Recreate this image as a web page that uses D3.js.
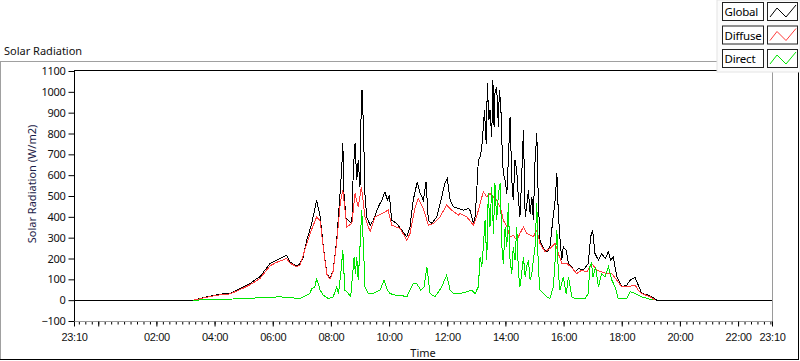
<!DOCTYPE html>
<html><head><meta charset="utf-8">
<script src="https://cdn.jsdelivr.net/npm/d3@7"></script>
<style>body{margin:0;background:#fff;} svg{display:block;font-family:"Noto Sans",sans-serif;}</style>
</head><body><svg id="c" width="800" height="361"></svg>
<script>
// ---- data (time in decimal hours; 23:10 of previous day = -0.8333) ----
const seriesNames = ["Global", "Diffuse", "Direct"];
const globalT = [-0.8333,3.27,3.73,4.19,4.53,4.87,5.22,5.45,5.56,5.73,5.91,6.14,6.48,6.59,6.83,6.94,7.05,7.17,7.34,7.51,7.63,7.74,7.86,7.97,8.08,8.20,8.29,8.37,8.41,8.45,8.52,8.60,8.72,8.77,8.83,8.89,8.94,9.00,9.04,9.07,9.12,9.17,9.23,9.35,9.46,9.63,9.75,9.86,9.94,10.01,10.09,10.26,10.44,10.61,10.72,10.83,10.97,11.07,11.18,11.27,11.35,11.47,11.64,11.81,11.92,12.00,12.10,12.21,12.38,12.55,12.73,12.78,12.90,12.96,13.01,13.07,13.13,13.19,13.24,13.28,13.34,13.38,13.43,13.47,13.53,13.57,13.61,13.64,13.70,13.76,13.79,13.84,13.90,13.93,13.99,14.05,14.10,14.16,14.22,14.27,14.33,14.39,14.45,14.50,14.56,14.62,14.68,14.73,14.79,14.85,14.91,14.96,15.02,15.08,15.13,15.19,15.28,15.36,15.44,15.53,15.63,15.71,15.77,15.82,15.88,15.94,15.99,16.09,16.17,16.28,16.40,16.51,16.68,16.85,16.93,17.00,17.08,17.20,17.31,17.43,17.54,17.62,17.71,17.83,18.00,18.17,18.29,18.46,18.57,18.69,18.86,19.03,19.20,23.1667];
const globalV = [0,0,16,29,32,56,80,104,112,144,176,192,216,184,163,176,208,288,368,480,400,256,128,104,144,288,464,624,752,512,392,384,368,624,752,576,672,544,912,1008,832,512,400,360,384,448,480,520,480,504,384,368,336,304,352,480,568,512,480,568,384,368,400,496,560,584,480,448,440,432,440,432,368,400,512,672,688,736,832,912,752,1040,864,912,784,1056,832,992,1024,832,1008,944,672,608,576,512,672,880,576,480,672,624,480,400,592,816,400,448,528,416,496,384,672,800,480,288,256,240,232,256,384,480,608,416,288,192,256,240,176,160,136,152,144,176,304,336,224,192,224,200,232,192,208,112,64,72,96,109,72,32,27,16,0,0];

const diffuseT = [3.27,3.73,4.19,4.53,4.87,5.22,5.56,5.91,6.14,6.48,6.59,6.83,6.94,7.17,7.34,7.51,7.63,7.74,7.86,7.97,8.08,8.20,8.32,8.41,8.55,8.72,8.83,8.94,9.05,9.17,9.35,9.52,9.75,9.97,10.09,10.38,10.61,10.72,10.90,11.01,11.18,11.35,11.52,11.75,11.98,12.15,12.38,12.44,12.67,12.90,13.01,13.13,13.24,13.36,13.47,13.59,13.70,13.82,13.93,14.05,14.16,14.27,14.39,14.50,14.62,14.73,14.85,14.96,15.08,15.19,15.36,15.53,15.71,15.82,15.94,16.11,16.28,16.45,16.62,16.80,16.97,17.14,17.31,17.49,17.66,17.83,18.00,18.17,18.46,18.57,18.69,18.98,19.15];
const diffuseV = [0,14,26,30,50,74,104,165,182,200,178,160,170,270,340,400,380,250,125,100,140,280,464,528,352,368,512,448,544,400,328,400,416,432,360,344,288,320,448,488,440,360,368,400,456,432,408,416,400,360,400,464,520,496,512,496,480,448,384,352,304,312,288,320,352,320,312,304,336,272,232,248,272,224,176,176,156,128,144,136,176,144,136,128,128,96,64,64,72,48,32,16,0];

const directT = [3.27,4.53,5.79,6.25,6.94,7.17,7.28,7.34,7.45,7.51,7.63,7.74,7.91,8.08,8.20,8.26,8.34,8.41,8.48,8.60,8.68,8.80,8.84,8.89,8.94,9.00,9.06,9.12,9.17,9.29,9.46,9.69,9.83,9.94,10.03,10.21,10.38,10.61,10.83,10.95,11.09,11.20,11.30,11.41,11.58,11.81,11.98,12.10,12.21,12.44,12.67,12.84,12.96,13.07,13.13,13.19,13.24,13.30,13.36,13.41,13.47,13.53,13.59,13.64,13.70,13.76,13.82,13.88,13.93,13.99,14.05,14.10,14.16,14.22,14.27,14.33,14.39,14.45,14.50,14.56,14.62,14.68,14.73,14.79,14.85,14.91,14.96,15.02,15.08,15.13,15.19,15.30,15.42,15.53,15.65,15.71,15.77,15.82,15.88,15.99,16.09,16.17,16.28,16.40,16.57,16.74,16.85,16.90,16.96,17.01,17.10,17.20,17.31,17.43,17.54,17.66,17.77,17.88,18.17,18.29,18.46,18.69,19.09];
const directV = [0,5,13,16,8,24,32,56,64,104,48,24,8,16,64,32,128,240,48,32,16,208,128,208,96,256,432,256,64,32,32,48,96,48,32,24,24,16,80,80,48,64,160,32,16,64,120,48,32,32,40,48,32,64,208,160,256,384,192,512,352,544,320,560,384,512,560,256,176,352,256,464,192,128,256,192,352,128,64,128,208,112,160,192,96,128,192,256,464,160,48,32,16,8,64,192,336,128,48,112,32,112,16,8,8,8,32,160,176,112,160,64,128,112,160,96,64,8,8,40,32,16,0];

const yTicks = [-100,0,100,200,300,400,500,600,700,800,900,1000,1100];
const xTickLabels = ["23:10","00:00","02:00","04:00","06:00","08:00","10:00","12:00","14:00","16:00","18:00","20:00","22:00","23:10"];
const hiddenLabels = ["00:00"];
const colors = {Global:"#000000", Diffuse:"#ff3c3c", Direct:"#00e600"};

// ---- layout ----
const svg = d3.select("#c");
const X0 = 74, X1 = 772, YT = 71, YB = 321;
const x = d3.scaleLinear().domain([-50/60, 23 + 10/60]).range([X0, X1]);
const y = d3.scaleLinear().domain([-100, 1100]).range([YB, YT]);
const labelHour = (s, i) => { const [h, m] = s.split(":").map(Number); let v = h + m/60; if (i === 0) v -= 24; return v; };
const majorHours = xTickLabels.map(labelHour);

// outer panel
svg.append("line").attr("x1",0).attr("x2",717).attr("y1",61.5).attr("y2",61.5).attr("stroke","#a0a0a0");
svg.append("line").attr("x1",0.5).attr("x2",0.5).attr("y1",61).attr("y2",360).attr("stroke","#a0a0a0");
svg.append("line").attr("x1",0).attr("x2",799).attr("y1",359.5).attr("y2",359.5).attr("stroke","#000");
svg.append("line").attr("x1",798.5).attr("x2",798.5).attr("y1",61).attr("y2",360).attr("stroke","#000");
svg.append("text").attr("x",4).attr("y",55).attr("font-size",11).attr("fill","#111").text("Solar Radiation");

// plot frame
svg.append("line").attr("x1",X0).attr("x2",X1+1).attr("y1",70.5).attr("y2",70.5).attr("stroke","#000");
svg.append("line").attr("x1",X1+0.5).attr("x2",X1+0.5).attr("y1",70).attr("y2",322).attr("stroke","#9a9a9a");

svg.append("defs").append("clipPath").attr("id","clip").append("rect")
  .attr("x",X0).attr("y",70).attr("width",X1-X0).attr("height",252);

const line = d3.line().x(d => x(d[0])).y(d => y(d[1]));
const series = [
  ["Global", d3.zip(globalT, globalV)],
  ["Diffuse", d3.zip(diffuseT, diffuseV)],
  ["Direct", d3.zip(directT, directV)]
];
const g = svg.append("g").attr("clip-path","url(#clip)");
series.forEach(([name, pts]) => {
  g.append("path").attr("d", line(pts)).attr("fill","none")
    .attr("stroke", colors[name]).attr("stroke-width",1).attr("shape-rendering","crispEdges");
});

// y axis
const ya = svg.append("g").attr("transform",`translate(${X0+0.5},0)`)
  .call(d3.axisLeft(y).tickValues(yTicks).tickSize(6).tickSizeOuter(0).tickPadding(3).tickFormat(d3.format("d")));
ya.select(".domain").attr("stroke","#000").attr("d",`M0,70V322`);
ya.selectAll("text").attr("font-size",11).attr("fill","#111").attr("font-family","Noto Sans").attr("letter-spacing","-0.3");

// x axis minor
const minors = d3.range(-3, 105).map(k => k * 40/60/3).filter(h => h > -50/60 && h < 23 + 10/60);
svg.append("g").attr("transform",`translate(0,${YB+0.5})`)
  .call(d3.axisBottom(x).tickValues(minors).tickSize(3).tickFormat(""))
  .call(s => s.select(".domain").remove());
const xa = svg.append("g").attr("transform",`translate(0,${YB+0.5})`)
  .call(d3.axisBottom(x).tickValues(majorHours).tickSize(5).tickSizeOuter(0).tickPadding(7)
    .tickFormat((d,i) => hiddenLabels.includes(xTickLabels[i]) ? "" : xTickLabels[i]));
xa.select(".domain").attr("stroke","#9a9a9a").attr("d",`M${X0},0H${X1+1}`);
xa.selectAll("text").attr("font-size",11).attr("fill","#111").attr("letter-spacing","-0.3");

// axis titles
svg.append("text").attr("transform","translate(36,184) rotate(-90)").attr("text-anchor","middle")
  .attr("font-size",11).attr("fill","#1c1c48").text("Solar Radiation (W/m2)");
svg.append("text").attr("x",(X0+X1)/2).attr("y",357).attr("text-anchor","middle")
  .attr("font-size",11).attr("fill","#111").text("Time");

// legend
const lg = svg.append("g");
lg.append("rect").attr("x",717).attr("y",0).attr("width",83).attr("height",72).attr("fill","#fbfbfb").attr("stroke","#e4e4e4");
seriesNames.forEach((name, i) => {
  const y0 = 2 + i * 23.5;
  lg.append("rect").attr("x",722.5).attr("y",y0+0.5).attr("width",41).attr("height",18).attr("fill","#fff").attr("stroke","#222");
  lg.append("text").attr("x",724.5).attr("y",y0+14).attr("font-size",11.5).attr("letter-spacing","-0.2").attr("fill","#000").text(name);
  lg.append("rect").attr("x",767.5).attr("y",y0+0.5).attr("width",30).attr("height",18).attr("fill","#fff").attr("stroke","#222");
  lg.append("path").attr("d",`M${770},${y0+15}L${777},${y0+6}L${786},${y0+15}L${796},${y0+3}`)
    .attr("fill","none").attr("stroke",colors[name]).attr("stroke-width",1);
});
</script></body></html>
